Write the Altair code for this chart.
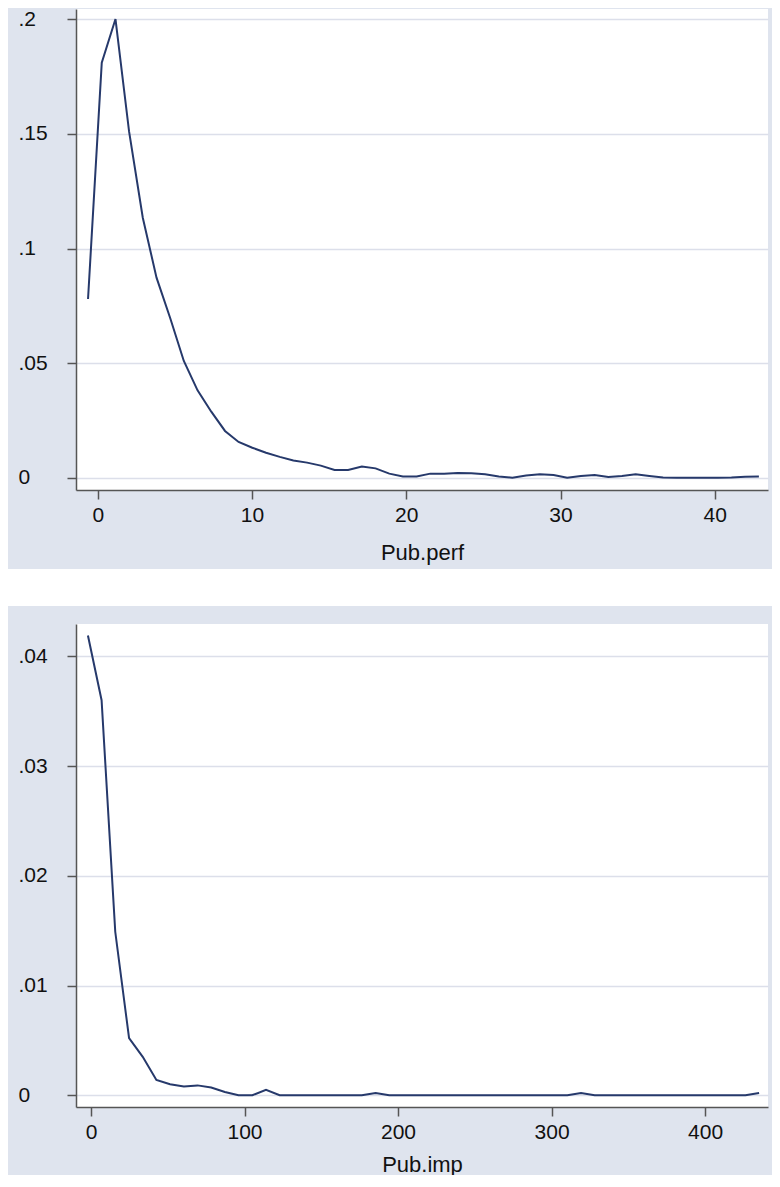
import altair as alt
import pandas as pd

# ---- Panel 1: kernel density of Pub.perf ----
perf_x = [-0.63, 0.26, 1.15, 2.03, 2.92, 3.81, 4.70, 5.58, 6.47, 7.36,
          8.25, 9.13, 10.02, 10.91, 11.80, 12.68, 13.57, 14.46, 15.35, 16.23,
          17.12, 18.01, 18.90, 19.78, 20.67, 21.56, 22.45, 23.33, 24.22, 25.11,
          26.00, 26.88, 27.77, 28.66, 29.55, 30.43, 31.32, 32.21, 33.10, 33.98,
          34.87, 35.76, 36.65, 37.53, 38.42, 39.31, 40.20, 41.08, 41.97, 42.86]
perf_y = [0.078, 0.181, 0.200, 0.151, 0.1134, 0.0873, 0.0696, 0.051, 0.0382, 0.0289,
          0.0205, 0.0157, 0.0132, 0.0110, 0.0092, 0.0076, 0.0067, 0.0054, 0.0035, 0.0035,
          0.0050, 0.0042, 0.0019, 0.0007, 0.0007, 0.0019, 0.0019, 0.0022, 0.0021, 0.0016,
          0.0007, 0.0001, 0.0011, 0.0016, 0.0013, 0.0001, 0.0009, 0.0013, 0.0004, 0.0009,
          0.0016, 0.0009, 0.0002, 0.0001, 0.0001, 0.0001, 0.0001, 0.0002, 0.0005, 0.0006]
perf_xticks = [0, 10, 20, 30, 40]
perf_yticks = [0, 0.05, 0.1, 0.15, 0.2]

# ---- Panel 2: kernel density of Pub.imp ----
imp_x = [-2.0, 6.9, 15.8, 24.8, 33.7, 42.6, 51.5, 60.5, 69.4, 78.3,
         87.2, 96.1, 105.1, 114.0, 122.9, 131.8, 140.8, 149.7, 158.6, 167.5,
         176.4, 185.4, 194.3, 203.2, 212.1, 221.1, 230.0, 238.9, 247.8, 256.7,
         265.7, 274.6, 283.5, 292.4, 301.4, 310.3, 319.2, 328.1, 337.0, 346.0,
         354.9, 363.8, 372.7, 381.7, 390.6, 399.5, 408.4, 417.3, 426.3, 435.2]
imp_y = [0.0419, 0.0360, 0.0149, 0.0052, 0.0035, 0.0014, 0.0010, 0.0008, 0.0009, 0.0007,
         0.0003, 0.0000, 0.0000, 0.0005, 0.0000, 0.0000, 0.0000, 0.0000, 0.0000, 0.0000,
         0.0000, 0.0002, 0.0000, 0.0000, 0.0000, 0.0000, 0.0000, 0.0000, 0.0000, 0.0000,
         0.0000, 0.0000, 0.0000, 0.0000, 0.0000, 0.0000, 0.0002, 0.0000, 0.0000, 0.0000,
         0.0000, 0.0000, 0.0000, 0.0000, 0.0000, 0.0000, 0.0000, 0.0000, 0.0000, 0.0002]
imp_xticks = [0, 100, 200, 300, 400]
imp_yticks = [0, 0.01, 0.02, 0.03, 0.04]

BG = "#dfe4ee"
LINE = "#26396b"
AXIS = "#555555"
GRID = "#dcdfea"
FONT = "Liberation Sans"
W = 692          # plot width (page x 76 -> 768)
RIGHT = 4        # blue strip right of plot (chart must stay <= 764 px wide)

label_expr = "datum.value == 0 ? '0' : slice(format(datum.value, '~g'), 1)"


def panel(xs, ys, title, xdom, ydom, xticks, yticks, h, deco_y, deco_y2, deco_color,
          title_pad):
    df = pd.DataFrame({"v": xs, "density": ys})
    line = alt.Chart(df).mark_line(color=LINE, strokeWidth=2, clip=True).encode(
        x=alt.X("v:Q",
                scale=alt.Scale(domain=xdom, nice=False, zero=False),
                axis=alt.Axis(values=xticks, title=title, grid=False, format="d",
                              labelPadding=5, titlePadding=title_pad)),
        y=alt.Y("density:Q",
                scale=alt.Scale(domain=ydom, nice=False, zero=False),
                axis=alt.Axis(values=yticks, title=None, grid=True,
                              labelExpr=label_expr, labelAlign="left",
                              labelPadding=49)),
    )
    deco = alt.Chart(pd.DataFrame({"k": [0]})).mark_rect(color=deco_color).encode(
        x=alt.value(-68), x2=alt.value(W + RIGHT),
        y=alt.value(deco_y), y2=alt.value(deco_y2),
    )
    return alt.layer(deco, line).properties(width=W, height=h)


p1 = panel(perf_x, perf_y, "Pub.perf", [-1.41, 43.45], [-0.00523, 0.20436],
           perf_xticks, perf_yticks, 481, 560, 597, "white", 17)
p2 = panel(imp_x, imp_y, "Pub.imp", [-9.77, 441.0], [-0.00107, 0.04295],
           imp_xticks, imp_yticks, 483, -18, 0, BG, 12)

chart = alt.vconcat(p1, p2, spacing=0).properties(
    background=BG,
    padding=0,
).configure_view(
    fill="white", strokeWidth=0
).configure_axis(
    domainColor=AXIS, domainWidth=1.5,
    tickColor=AXIS, tickWidth=1.5, tickSize=9,
    gridColor=GRID, gridWidth=1.5,
    labelFont=FONT, labelFontSize=21, labelColor="#111111",
    titleFont=FONT, titleFontSize=22, titleColor="#111111", titleFontWeight="normal",
)

chart.save("out.html", embed_options={"renderer": "svg", "actions": False})
